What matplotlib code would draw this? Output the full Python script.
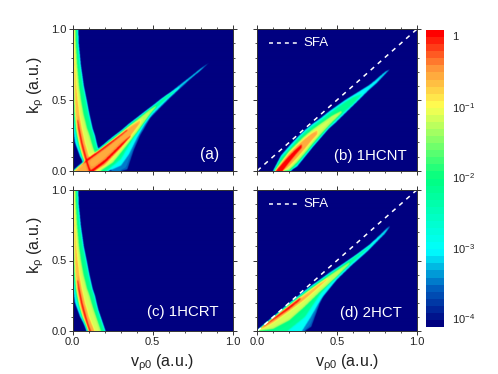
# -*- coding: utf-8 -*-

import matplotlib
matplotlib.use("Agg")
import numpy as np
import matplotlib.pyplot as plt
from matplotlib.cm import ScalarMappable
from matplotlib.colors import LinearSegmentedColormap, LogNorm
from matplotlib.ticker import FixedLocator, NullLocator

plt.rcParams['font.family'] = ['Liberation Sans', 'DejaVu Sans']
plt.rcParams['mathtext.default'] = 'regular'

# Colour bar
bar_colors = ['#000080', '#0060c0', '#00ffff', '#00ff80', '#ffff50', '#ff9a3a', '#ff0000']
bar_ticks = [1e-4, 1e-3, 1e-2, 1e-1, 1]
bar_labels = ['10$^{-4}$', '10$^{-3}$', '10$^{-2}$', '10$^{-1}$', '1']

# Near-vertical band of (a) and (c): k rows, left edge, right edge per level
k_steep = [0, .05, .1, .15, .2, .25, .3, .4, .5, .6, .75, .9, 1.0]
steep_cyan_l = [.085, .068, .045, .028, .012, .006, .002, 0, 0, 0, 0, 0, 0]
steep_cyan_r = [.204, .189, .174, .159, .148, .138, .123, .103, .086, .068, .049, .036, .033]
steep_green_l = [.09, .075, .055, .042, .03, .02, .012, .005, .002, .001, 0, 0, 0]
steep_green_r = [.198, .183, .168, .153, .142, .132, .117, .097, .08, .062, .043, .03, .027]
steep_lime_l = [.093, .078, .059, .046, .035, .026, .018, .01, .006, .004, .002, .001, .001]
steep_lime_r = [.175, .16, .145, .13, .116, .104, .088, .066, .05, .038, .026, .018, .016]
steep_orange_l = [.097, .082, .064, .05, .04, .032, .024, .016, .012, .008, .005, .003, .002]
steep_orange_r = [.135, .118, .1, .088, .075, .065, .055, .04, .03, .022, .014, .009, .007]
k_steep_red = [0, .05, .1, .15, .2, .25, .3, .36]
steep_red_l = [.1, .085, .072, .06, .049, .04, .032, .026]
steep_red_r = [.112, .096, .083, .071, .059, .05, .041, .032]

# Panel (a), rising band: v columns, lower edge, upper edge per level
a_v0 = [.24, .3, .34, .38, .42, .483, .55, .608, .68, .744, .8, .87]
a_dark_lo = [0, 0, .01, .146, .25, .373, .45, .515, .59, .655, .71, .78]
a_dark_up = [.235, .285, .325, .36, .395, .45, .51, .555, .62, .675, .725, .78]
a_v1 = [0, .1, .22, .3, .35, .4, .45, .5, .55, .608, .68, .744, .79, .84]
a_cyan_lo = [0, 0, 0, .04, .12, .235, .335, .405, .46, .525, .60, .66, .70, .755]
a_cyan_up = [0, .098, .215, .283, .332, .375, .42, .46, .505, .552, .615, .672, .715, .755]
a_v2 = [0, .1, .21, .3, .36, .4, .5, .587, .67]
a_green_lo = [0, 0, 0, .085, .2, .285, .425, .51, .59]
a_green_up = [0, .096, .2, .28, .335, .37, .455, .535, .59]
a_v3 = [0, .1, .17, .25, .3, .4, .483, .52]
a_lime_lo = [0, 0, 0, .06, .13, .27, .40, .45]
a_lime_up = [0, .09, .155, .225, .272, .36, .435, .46]
a_v4 = [0, .14, .2, .3, .36, .42]
a_orange_lo = [0, 0, .04, .16, .245, .335]
a_orange_up = [0, .125, .178, .265, .32, .36]
a_v5 = [0, .1, .2, .3, .34]
a_red1_lo = [0, .078, .16, .248, .285]
a_red1_up = [0, .095, .18, .26, .295]
a_v6 = [.105, .13, .2, .3, .36]
a_red2_lo = [0, 0, .058, .17, .24]
a_red2_up = [0, .02, .08, .19, .25]

# Panel (b)
b_v0 = [.10, .15, .2, .25, .3, .35, .4, .45, .5, .55, .6, .65, .7, .75, .8, .835]
b_cyan_lo = [0, 0, 0, .03, .10, .17, .235, .30, .35, .405, .46, .515, .57, .62, .68, .72]
b_cyan_up = [0, .11, .175, .235, .29, .335, .375, .42, .46, .50, .535, .57, .605, .65, .70, .72]
b_v1 = [.105, .15, .21, .25, .3, .35, .4, .45, .5, .55, .6, .66]
b_green_lo = [0, 0, 0, .045, .112, .18, .245, .31, .365, .42, .47, .545]
b_green_up = [0, .095, .165, .22, .275, .32, .36, .405, .445, .485, .52, .545]
b_v2 = [.11, .2, .25, .3, .35, .4, .47, .53]
b_lime_lo = [0, .005, .06, .125, .195, .26, .345, .41]
b_lime_up = [0, .14, .195, .25, .295, .335, .39, .425]
b_v3 = [.112, .165, .2, .25, .3, .34, .38]
b_orange_lo = [0, 0, .03, .09, .155, .21, .26]
b_orange_up = [0, .08, .125, .18, .23, .265, .29]
b_v4 = [.115, .16, .2, .24, .28]
b_red_lo = [0, 0, .06, .115, .165]
b_red_up = [0, .055, .105, .15, .19]

# Panel (d)
d_v0 = [.03, .1, .2, .3, .34, .393, .456, .519, .623, .728, .81, .84]
d_dark_lo = [0, 0, 0, 0, .03, .196, .338, .41, .503, .61, .716, .76]
d_dark_up = [.03, .1, .195, .285, .32, .365, .42, .465, .545, .635, .73, .76]
d_v1 = [0, .1, .2, .28, .33, .4, .5, .6, .7, .8, .835]
d_cyan_lo = [0, 0, 0, 0, .09, .225, .365, .475, .575, .69, .745]
d_cyan_up = [0, .1, .195, .27, .315, .37, .445, .525, .61, .715, .745]
d_v2 = [0, .1, .19, .3, .4, .5, .6, .7, .76]
d_green_lo = [0, 0, 0, .10, .27, .39, .49, .59, .665]
d_green_up = [0, .097, .188, .277, .362, .44, .52, .60, .665]
d_v3 = [0, .1, .2, .3, .4, .5, .58]
d_lime_lo = [0, .015, .075, .175, .285, .385, .475]
d_lime_up = [0, .095, .183, .27, .352, .43, .49]
d_v4 = [0, .05, .1, .2, .3, .38, .44]
d_orange_lo = [0, .025, .06, .14, .225, .305, .365]
d_orange_up = [0, .05, .093, .178, .26, .33, .375]
d_v5 = [0, .05, .1, .2, .27]
d_red_lo = [0, .036, .075, .155, .22]
d_red_up = [0, .048, .093, .178, .24]

# Level of each layer, log10 of the yield
lev_dark, lev_cyan, lev_green, lev_lime, lev_orange, lev_red = -3.4, -2.9, -2.1, -1.2, -0.6, 0.1

anchors = [0, 1 / 8, 1 / 4, .5, .75, .875, 1]
cmap = LinearSegmentedColormap.from_list('bar', list(zip(anchors, bar_colors)), N=42)

N = 480
V, K = np.meshgrid((np.arange(N) + .5) / N, (np.arange(N) + .5) / N)


def add_rising(f, v, lo, up, level):
    inside = (V >= v[0]) & (V <= v[-1]) & (K >= np.interp(V, v, lo)) & (K <= np.interp(V, v, up))
    f[inside] = np.maximum(f[inside], level)


def add_steep(f, k, left, right, level):
    inside = (K <= k[-1]) & (V >= np.interp(K, k, left)) & (V <= np.interp(K, k, right))
    f[inside] = np.maximum(f[inside], level)


def soften(f, width):
    # small gaussian blur, the reference picture is a scaled bitmap
    x = np.arange(-int(3 * width), int(3 * width) + 1)
    g = np.exp(-x**2 / (2 * width**2))
    g /= g.sum()
    p = np.pad(f, len(x), mode='edge')
    p = np.apply_along_axis(lambda r: np.convolve(r, g, mode='same'), 0, p)
    p = np.apply_along_axis(lambda r: np.convolve(r, g, mode='same'), 1, p)
    return p[len(x):-len(x), len(x):-len(x)]


def show(ax, f):
    f = .75 * soften(f, 1.5) + .25 * soften(f, 6)
    ax.imshow(10**f, origin='lower', extent=(0, 1, 0, 1), cmap=cmap,
              norm=LogNorm(1e-4, 1), aspect='auto', interpolation='bilinear', zorder=0)
    ax.set_xlim(0, 1)
    ax.set_ylim(0, 1)


def steep(f):
    add_steep(f, k_steep, steep_cyan_l, steep_cyan_r, lev_cyan)
    add_steep(f, k_steep, steep_green_l, steep_green_r, lev_green)
    add_steep(f, k_steep, steep_lime_l, steep_lime_r, lev_lime)
    add_steep(f, k_steep, steep_orange_l, steep_orange_r, lev_orange)
    add_steep(f, k_steep_red, steep_red_l, steep_red_r, lev_red)


def setup(pos, xlabels, ylabels):
    ax = fig.add_axes(pos)
    for axis in (ax.xaxis, ax.yaxis):
        axis.set_major_locator(FixedLocator([0, .5, 1]))
        axis.set_minor_locator(FixedLocator([.1, .2, .3, .4, .6, .7, .8, .9]))
    ax.tick_params(which='major', length=3, width=.7, top=True, right=True,
                   labelsize=8, pad=1.5, color='#333333', labelcolor='#222222',
                   labelbottom=xlabels, labelleft=ylabels)
    ax.tick_params(which='minor', length=1.5, width=.6, top=True, right=True, color='#333333')
    for s in ax.spines.values():
        s.set_linewidth(.7)
        s.set_color('#333333')
    if xlabels:
        ax.set_xlabel(r'v$_{\rho0}$ (a.u.)', fontsize=11.5, color='#222222')
        ax.xaxis.set_label_coords(.56, -.155)
    if ylabels:
        ax.set_ylabel(r'k$_{\rho}$ (a.u.)', fontsize=11.5, color='#222222')
        ax.yaxis.set_label_coords(-.165, .606)
    return ax


def sfa(ax):
    ax.plot([0, 1], [0, 1], color='white', lw=1.1, ls=(0, (3, 3.2)))
    ax.plot([.075, .25], [.9, .9], color='white', lw=1.1, ls=(0, (2.6, 2.6)))
    ax.text(.29, .9, 'SFA', color='white', fontsize=9.5, va='center')


W, H = 498, 374
fig = plt.figure(figsize=(4.98, 3.74), dpi=100)

ax_a = setup([72.7 / W, 1 - 170.7 / H, 160 / W, 141.4 / H], False, True)
ax_b = setup([257.3 / W, 1 - 170.7 / H, 159.4 / W, 141.4 / H], False, False)
ax_c = setup([72.7 / W, 1 - 331 / H, 160 / W, 141 / H], True, True)
ax_d = setup([257.3 / W, 1 - 331 / H, 159.4 / W, 141 / H], True, False)

# (a)
field = np.full((N, N), -4.2)
steep(field)
add_rising(field, a_v0, a_dark_lo, a_dark_up, lev_dark)
add_rising(field, a_v1, a_cyan_lo, a_cyan_up, lev_cyan)
add_rising(field, a_v2, a_green_lo, a_green_up, lev_green)
add_rising(field, a_v3, a_lime_lo, a_lime_up, lev_lime)
add_rising(field, a_v4, a_orange_lo, a_orange_up, lev_orange)
add_rising(field, a_v6, a_red2_lo, a_red2_up, lev_red)
add_rising(field, a_v5, a_red1_lo, a_red1_up, lev_red)
show(ax_a, field)
ax_a.text(.915, .115, '(a)', color='white', fontsize=11.2, ha='right', va='center')

# (b)
field = np.full((N, N), -4.2)
add_rising(field, b_v0, b_cyan_lo, b_cyan_up, lev_cyan)
add_rising(field, b_v1, b_green_lo, b_green_up, lev_green)
add_rising(field, b_v2, b_lime_lo, b_lime_up, lev_lime)
add_rising(field, b_v3, b_orange_lo, b_orange_up, lev_orange)
add_rising(field, b_v4, b_red_lo, b_red_up, lev_red)
show(ax_b, field)
sfa(ax_b)
ax_b.text(.94, .105, '(b) 1HCNT', color='white', fontsize=10.8, ha='right', va='center')

# (c)
field = np.full((N, N), -4.2)
steep(field)
show(ax_c, field)
ax_c.text(.91, .135, '(c) 1HCRT', color='white', fontsize=10.8, ha='right', va='center')

# (d)
field = np.full((N, N), -4.2)
add_rising(field, d_v0, d_dark_lo, d_dark_up, lev_dark)
add_rising(field, d_v1, d_cyan_lo, d_cyan_up, lev_cyan)
add_rising(field, d_v2, d_green_lo, d_green_up, lev_green)
add_rising(field, d_v3, d_lime_lo, d_lime_up, lev_lime)
add_rising(field, d_v4, d_orange_lo, d_orange_up, lev_orange)
add_rising(field, d_v5, d_red_lo, d_red_up, lev_red)
show(ax_d, field)
sfa(ax_d)
ax_d.text(.91, .125, '(d) 2HCT', color='white', fontsize=10.8, ha='right', va='center')

# colour bar
cax = fig.add_axes([426 / W, 1 - 327 / H, 18 / W, 297 / H])
cb = fig.colorbar(ScalarMappable(norm=LogNorm(10 ** -4.12, 10 ** .09), cmap=cmap), cax=cax)
cb.outline.set_visible(False)
cb.ax.yaxis.set_major_locator(FixedLocator(bar_ticks))
cb.ax.yaxis.set_minor_locator(NullLocator())
cb.ax.set_yticklabels(bar_labels)
cb.ax.tick_params(length=0, labelsize=8, pad=5.5, labelcolor='#222222')

fig.savefig('out.png', dpi=100)
